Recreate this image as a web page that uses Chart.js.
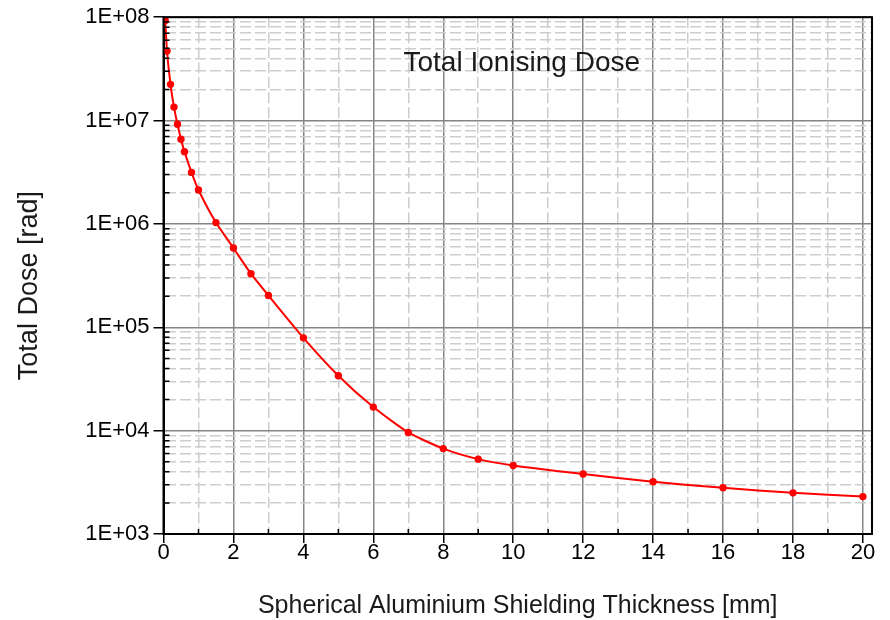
<!DOCTYPE html>
<html lang="en">

<head>
  <meta charset="UTF-8">
  <title>Total Ionising Dose</title>
  <script src="https://cdn.jsdelivr.net/npm/chart.js@4/dist/chart.umd.min.js"></script>
  <style>
  html, body {
    margin: 0;
    padding: 0;
    background: #fff;
  }

  #wrap {
    width: 890px;
    height: 620px;
  }
  </style>
</head>

<body>
  <div id="wrap"><canvas id="myChart"></canvas></div>
  <script>
    // data
    var thickness = [0.05, 0.1, 0.2, 0.3, 0.4, 0.5, 0.6, 0.8, 1, 1.5, 2, 2.5, 3, 4, 5, 6, 7, 8, 9, 10, 12, 14, 16, 18, 20]
    var dose = [9.3e7, 4.7e7, 2.24e7, 1.35e7, 9.2e6, 6.6e6, 5.0e6, 3.15e6, 2.13e6, 1.03e6, 5.85e5, 3.3e5, 2.03e5,
      7.9e4, 3.4e4, 1.69e4, 9.6e3, 6.7e3, 5.3e3, 4.6e3, 3.8e3, 3.2e3, 2.8e3, 2.5e3, 2.3e3]

    var xTicks = [0, 1, 2, 3, 4, 5, 6, 7, 8, 9, 10, 11, 12, 13, 14, 15, 16, 17, 18, 19, 20]
    var yDecades = [1e3, 1e4, 1e5, 1e6, 1e7, 1e8]
    var yMinorSteps = [2, 3, 4, 5, 6, 7, 8, 9]

    var chartTitle = 'Total Ionising Dose'
    var xTitle = 'Spherical Aluminium Shielding Thickness [mm]'
    var yTitle = 'Total Dose [rad]'

    var font = "'Liberation Sans', Arial, sans-serif"
    var majorGrid = '#858585'
    var minorGrid = '#cdcdcd'

    var yTicks = []
    yDecades.forEach(function (d, i) {
      yTicks.push(d)
      if (i < yDecades.length - 1) yMinorSteps.forEach(m => yTicks.push(d * m))
    })

    function isDecade(v) {
      var e = Math.log10(v)
      return Math.abs(e - Math.round(e)) < 1e-9
    }

    function xMajor(ctx) { return ctx.tick && ctx.tick.value % 2 === 0 }
    function yMajor(ctx) { return ctx.tick && isDecade(ctx.tick.value) }

    // frame, inner minor ticks, in-plot title and axis titles
    var decor = {
      id: 'decor',
      afterDraw(chart) {
        const c = chart.ctx, a = chart.chartArea
        const xs = chart.scales.x, ys = chart.scales.y
        const cx = (a.left + a.right) / 2, cy = (a.top + a.bottom) / 2
        c.save()
        c.strokeStyle = '#000'
        c.lineWidth = 1.5
        c.beginPath()
        xTicks.filter(v => v % 2 !== 0).forEach(v => {
          const px = xs.getPixelForValue(v)
          c.moveTo(px, a.bottom)
          c.lineTo(px, a.bottom - 5)
        })
        yTicks.filter(v => !isDecade(v)).forEach(v => {
          const py = ys.getPixelForValue(v)
          c.moveTo(a.left, py)
          c.lineTo(a.left + 6, py)
        })
        c.stroke()
        c.lineWidth = 2
        c.strokeRect(a.left, a.top, a.right - a.left, a.bottom - a.top)

        c.fillStyle = '#1a1a1a'
        c.textAlign = 'center'
        c.textBaseline = 'middle'
        c.font = '28px ' + font
        c.fillText(chartTitle, cx + 4, a.top + 46)
        c.font = '25px ' + font
        c.fillText(xTitle, cx, a.bottom + 72)
        c.translate(30, cy + 10)
        c.rotate(-Math.PI / 2)
        c.font = '27px ' + font
        c.fillText(yTitle, 0, 0)
        c.restore()
      }
    }

    const ctx = document.getElementById('myChart').getContext('2d')
    const chart = new Chart(ctx, {
      type: 'line',
      data: {
        datasets: [{
          label: 'Total Dose',
          data: thickness.map((t, i) => ({ x: t, y: dose[i] })),
          borderColor: '#ff0000',
          backgroundColor: '#ff0000',
          borderWidth: 2,
          pointRadius: 2.7,
          pointHoverRadius: 2.7,
          tension: 0.2,
          fill: false
        }]
      },
      options: {
        responsive: true,
        maintainAspectRatio: false,
        animation: false,
        layout: { padding: { top: 16, right: 18, left: 0, bottom: 0 } },
        plugins: {
          legend: { display: false },
          tooltip: { enabled: false }
        },
        scales: {
          x: {
            type: 'linear',
            min: 0,
            max: 20.26,
            afterBuildTicks: s => { s.ticks = xTicks.map(v => ({ value: v })) },
            afterFit: s => { s.height = 86 },
            ticks: {
              autoSkip: false,
              maxRotation: 0,
              padding: -3,
              color: '#000',
              font: { family: font, size: 22 },
              callback: v => v % 2 === 0 ? String(v) : ''
            },
            grid: {
              color: ctx => xMajor(ctx) ? majorGrid : minorGrid,
              lineWidth: 1.5,
              tickColor: ctx => xMajor(ctx) ? '#000' : 'rgba(0,0,0,0)',
              tickLength: 9,
              tickWidth: 1.5
            },
            border: {
              color: '#000',
              width: 2,
              dash: ctx => ctx.tick && ctx.tick.value % 2 !== 0 ? [11, 4] : []
            }
          },
          y: {
            type: 'logarithmic',
            min: 1e3,
            max: 1e8,
            afterBuildTicks: s => { s.ticks = yTicks.map(v => ({ value: v, major: isDecade(v) })) },
            afterFit: s => { s.width = 163.5 },
            ticks: {
              autoSkip: false,
              padding: 4,
              color: '#000',
              font: { family: font, size: 22 },
              callback: v => isDecade(v) ? '1E+0' + Math.round(Math.log10(v)) : ''
            },
            grid: {
              color: ctx => yMajor(ctx) ? majorGrid : minorGrid,
              lineWidth: 1.5,
              tickColor: ctx => yMajor(ctx) ? '#000' : 'rgba(0,0,0,0)',
              tickLength: 10,
              tickWidth: 1.5
            },
            border: {
              color: '#000',
              width: 2,
              dash: ctx => ctx.tick && !isDecade(ctx.tick.value) ? [11, 4] : []
            }
          }
        }
      },
      plugins: [decor]
    })
  </script>
</body>

</html>
